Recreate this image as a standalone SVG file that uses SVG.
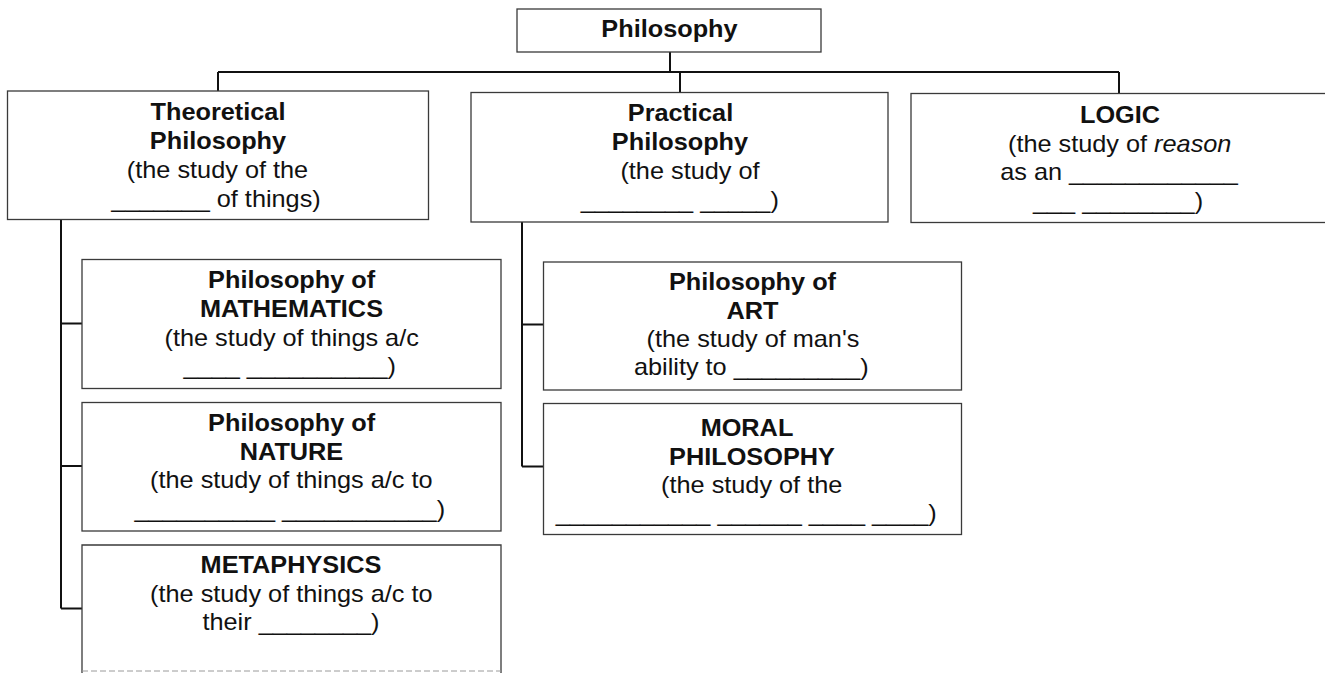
<svg xmlns="http://www.w3.org/2000/svg" width="1325" height="673" viewBox="0 0 1325 673">
  <style>
    .box { fill: #ffffff; stroke: #3a3a3a; stroke-width: 1.3; }
    .edge { fill: none; stroke: #3a3a3a; stroke-width: 1.3; }
    .faint { fill: none; stroke: #9a9a9a; stroke-width: 1; stroke-dasharray: 6 3; }
    .link { fill: none; stroke: #111111; stroke-width: 2; }
    text { font-family: "Liberation Sans", Arial, sans-serif; font-size: 23px; fill: #111111; text-anchor: middle;
           transform-box: fill-box; transform-origin: center; transform: scaleX(1.1); }
    .b { font-weight: bold; }
    .i { font-style: italic; }
  </style>

  <rect width="1325" height="673" fill="#ffffff"/>

  <!-- tree connectors -->
  <g id="connectors">
    <path class="link" d="M670 52 V72"/>
    <path class="link" d="M218 72 H1119"/>
    <path class="link" d="M218 72 V91"/>
    <path class="link" d="M680 72 V92"/>
    <path class="link" d="M1119 72 V93"/>
    <path class="link" d="M61 219.5 V608.5 M61 323.5 H82 M61 466 H82 M61 608.5 H82"/>
    <path class="link" d="M522 222 V466.5 M522 324.5 H543 M522 466.5 H543"/>
  </g>

  <g id="philosophy">
    <rect class="box" x="517" y="9" width="304" height="43"/>
    <text class="b" x="669.5" y="37.5">Philosophy</text>
  </g>

  <g id="theoretical">
    <rect class="box" x="7.5" y="91" width="421" height="128.5"/>
    <text class="b" x="218" y="120">Theoretical</text>
    <text class="b" x="218" y="149.5">Philosophy</text>
    <text x="217.5" y="178.5">(the study of the</text>
    <text x="216" y="207">_______ of things)</text>
  </g>

  <g id="practical">
    <rect class="box" x="471" y="92.5" width="417" height="129.5"/>
    <text class="b" x="680.5" y="121.5">Practical</text>
    <text class="b" x="680" y="150.5">Philosophy</text>
    <text x="690" y="179">(the study of</text>
    <text x="679.7" y="208.5">________ _____)</text>
  </g>

  <g id="logic">
    <rect class="box" x="911" y="93.5" width="416" height="129"/>
    <text class="b" x="1120" y="123.5">LOGIC</text>
    <text x="1119.7" y="152.5">(the study of <tspan class="i">reason</tspan></text>
    <text x="1119" y="180.5">as an ____________</text>
    <text x="1118" y="209.5">___ ________)</text>
  </g>

  <g id="mathematics">
    <rect class="box" x="82" y="259.5" width="419" height="129"/>
    <text class="b" x="291.7" y="288.5">Philosophy of</text>
    <text class="b" x="291.5" y="317.5">MATHEMATICS</text>
    <text x="291.7" y="346.5">(the study of things a/c</text>
    <text x="289.7" y="374.5">____ __________)</text>
  </g>

  <g id="nature">
    <rect class="box" x="82" y="402.5" width="419" height="128.5"/>
    <text class="b" x="291.7" y="431">Philosophy of</text>
    <text class="b" x="291.5" y="460">NATURE</text>
    <text x="291.3" y="488.5">(the study of things a/c to</text>
    <text x="289.7" y="517">__________ ___________)</text>
  </g>

  <g id="metaphysics">
    <rect x="82" y="545" width="419" height="130" fill="#ffffff"/>
    <path class="edge" d="M82 674 V545 H501 V674"/>
    <path class="faint" d="M82 671 H501"/>
    <text class="b" x="291" y="573.5">METAPHYSICS</text>
    <text x="291.3" y="602">(the study of things a/c to</text>
    <text x="291" y="630">their ________)</text>
  </g>

  <g id="art">
    <rect class="box" x="543.5" y="262" width="418" height="128"/>
    <text class="b" x="752.5" y="290">Philosophy of</text>
    <text class="b" x="752.5" y="319">ART</text>
    <text x="753" y="347">(the study of man's</text>
    <text x="751.3" y="375">ability to _________)</text>
  </g>

  <g id="moral">
    <rect class="box" x="543.5" y="403.5" width="418" height="131"/>
    <text class="b" x="747" y="436.5">MORAL</text>
    <text class="b" x="752" y="465">PHILOSOPHY</text>
    <text x="751.7" y="493.5">(the study of the</text>
    <text x="746.2" y="521">___________ ______ ____ ____)</text>
  </g>
</svg>
